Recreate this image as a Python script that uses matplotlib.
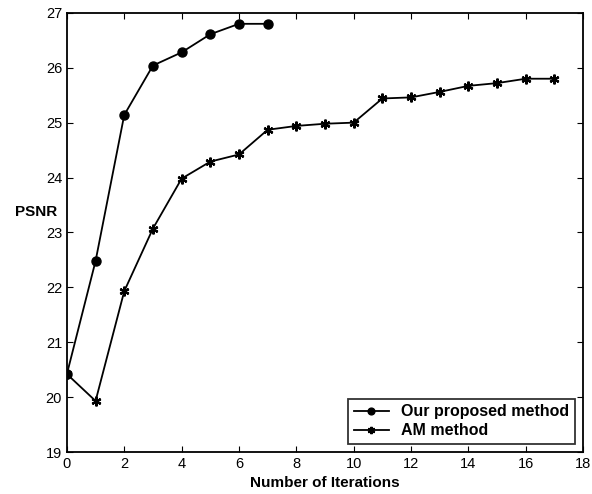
import matplotlib
matplotlib.use("Agg")
import matplotlib.pyplot as plt

plt.rcParams['font.family'] = ['Liberation Sans', 'DejaVu Sans']

# PSNR per iteration for the two methods
iters_ours = [0, 1, 2, 3, 4, 5, 6, 7]
psnr_ours = [20.42, 22.48, 25.14, 26.04, 26.28, 26.61, 26.80, 26.80]

iters_am = list(range(18))
psnr_am = [20.42, 19.93, 21.93, 23.07, 23.98, 24.29, 24.42, 24.87, 24.94,
           24.98, 25.00, 25.44, 25.46, 25.56, 25.67, 25.72, 25.80, 25.80]

xticks = [0, 2, 4, 6, 8, 10, 12, 14, 16, 18]
yticks = [19, 20, 21, 22, 23, 24, 25, 26, 27]

fig = plt.figure(figsize=(5.92, 4.94), dpi=100)
ax = fig.add_axes([0.113, 0.085, 0.872, 0.889])

ax.plot(iters_ours, psnr_ours, color='black', lw=1.3, marker='o', ms=6.5,
        label='Our proposed method')
# MATLAB-style asterisk marker
ax.plot(iters_am, psnr_am, color='black', lw=1.3, marker=(6, 2, 0), ms=7,
        mew=1.6, label='AM method')

ax.set_xlim(0, 18)
ax.set_ylim(19, 27)
ax.set_xticks(xticks)
ax.set_yticks(yticks)
ax.tick_params(direction='in', top=True, right=True, labelsize=10.5, length=4)
for sp in ax.spines.values():
    sp.set_linewidth(1.3)

ax.set_xlabel('Number of Iterations', fontsize=11, fontweight='bold', labelpad=4)
ax.set_ylabel('PSNR', fontsize=11, fontweight='bold', rotation=0)
ax.yaxis.set_label_coords(-0.06, 0.53)

leg = ax.legend(loc='lower right', fancybox=False, edgecolor='black',
                prop={'size': 11.5, 'weight': 'bold'}, handlelength=2.2,
                borderaxespad=0.5, labelspacing=0.25, markerscale=0.75,
                borderpad=0.35)
leg.get_frame().set_linewidth(1.3)

fig.savefig('out.png', dpi=100)
